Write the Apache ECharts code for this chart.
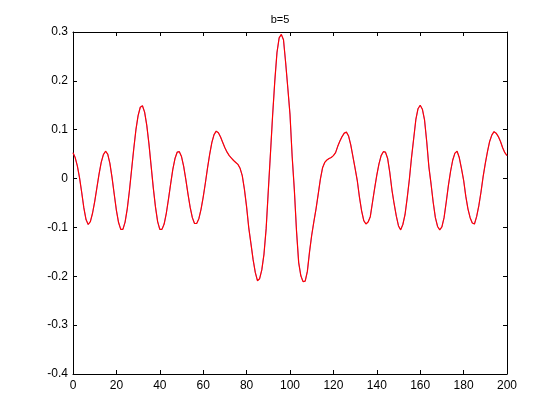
<!DOCTYPE html>
<html>
<head>
<meta charset="utf-8">
<script src="https://cdn.jsdelivr.net/npm/echarts@6/dist/echarts.min.js"></script>
<style>
html,body{margin:0;padding:0;background:#fff;}
#chart{width:560px;height:420px;}
</style>
</head>
<body>
<div id="chart"></div>
<script>
const titleText = "b=5";
const xTicks = [0, 20, 40, 60, 80, 100, 120, 140, 160, 180, 200];
const yTicks = [-0.4, -0.3, -0.2, -0.1, 0, 0.1, 0.2, 0.3];
// sample values at x = 0,1,2,...,200
const redValues = [
  0.053, 0.043, 0.026, 0.002, -0.028, -0.060, -0.084, -0.094, -0.088, -0.071,
  -0.047, -0.019, 0.009, 0.033, 0.049, 0.056, 0.050, 0.031, 0.002, -0.032,
  -0.065, -0.090, -0.104, -0.104, -0.089, -0.062, -0.025, 0.018, 0.061, 0.100,
  0.129, 0.146, 0.149, 0.136, 0.109, 0.071, 0.026, -0.019, -0.058, -0.088,
  -0.104, -0.104, -0.093, -0.071, -0.042, -0.011, 0.019, 0.041, 0.054, 0.055,
  0.045, 0.025, -0.002, -0.032, -0.059, -0.080, -0.092, -0.092, -0.082, -0.063,
  -0.038, -0.009, 0.022, 0.050, 0.074, 0.090, 0.097, 0.094, 0.085, 0.074,
  0.063, 0.054, 0.047, 0.042, 0.037, 0.033, 0.029, 0.021, 0.006, -0.022,
  -0.058, -0.101, -0.133, -0.166, -0.192, -0.209, -0.205, -0.187, -0.155, -0.103,
  -0.025, 0.052, 0.130, 0.200, 0.258, 0.288, 0.295, 0.284, 0.237, 0.185,
  0.131, 0.045, -0.023, -0.107, -0.172, -0.199, -0.211, -0.210, -0.190, -0.150,
  -0.116, -0.088, -0.062, -0.032, -0.001, 0.022, 0.033, 0.038, 0.041, 0.043,
  0.047, 0.053, 0.066, 0.077, 0.086, 0.093, 0.095, 0.087, 0.069, 0.045,
  0.021, -0.004, -0.038, -0.066, -0.086, -0.093, -0.089, -0.078, -0.049, -0.020,
  0.007, 0.030, 0.047, 0.055, 0.054, 0.041, 0.012, -0.024, -0.052, -0.077,
  -0.097, -0.105, -0.094, -0.074, -0.040, -0.002, 0.043, 0.082, 0.121, 0.143,
  0.150, 0.142, 0.120, 0.076, 0.024, -0.011, -0.049, -0.080, -0.098, -0.105,
  -0.099, -0.080, -0.048, -0.014, 0.015, 0.038, 0.052, 0.056, 0.043, 0.021,
  -0.003, -0.036, -0.062, -0.080, -0.091, -0.093, -0.078, -0.056, -0.028, 0.004,
  0.031, 0.055, 0.076, 0.089, 0.096, 0.093, 0.086, 0.076, 0.063, 0.053,
  0.047
];
const blueValues = redValues;

const toPairs = arr => arr.map((v, i) => [i, v]);
const fmtY = v => String(+(+v).toFixed(1));
const FONT = "Liberation Sans, Arial, sans-serif";

const chart = echarts.init(document.getElementById('chart'), null, {renderer: 'canvas'});
const axisCommon = {
  axisLine: {show: true, onZero: false, lineStyle: {color: '#000', width: 1}},
  axisTick: {show: true, inside: true, length: 4, lineStyle: {color: '#000', width: 1}},
  splitLine: {show: false}
};
chart.setOption({
  animation: false,
  backgroundColor: '#fff',
  title: {
    text: titleText, left: 'center', top: 9,
    textStyle: {fontFamily: FONT, fontSize: 11, fontWeight: 'normal', color: '#000'}
  },
  grid: {left: 73, right: 53, top: 32, bottom: 46, containLabel: false},
  xAxis: [
    Object.assign({
      type: 'value', position: 'bottom', min: xTicks[0], max: xTicks[xTicks.length - 1],
      interval: xTicks[1] - xTicks[0],
      axisLabel: {color: '#000', fontFamily: FONT, fontSize: 12, margin: 6}
    }, axisCommon),
    Object.assign({
      type: 'value', position: 'top', min: xTicks[0], max: xTicks[xTicks.length - 1],
      interval: xTicks[1] - xTicks[0], axisLabel: {show: false}
    }, axisCommon)
  ],
  yAxis: [
    Object.assign({
      type: 'value', position: 'left', min: yTicks[0], max: yTicks[yTicks.length - 1],
      interval: 0.1,
      axisLabel: {color: '#000', fontFamily: FONT, fontSize: 12, margin: 5, formatter: fmtY}
    }, axisCommon),
    Object.assign({
      type: 'value', position: 'right', min: yTicks[0], max: yTicks[yTicks.length - 1],
      interval: 0.1, axisLabel: {show: false}
    }, axisCommon)
  ],
  series: [
    {
      type: 'line', data: toPairs(blueValues), xAxisIndex: 0, yAxisIndex: 0,
      showSymbol: false, lineStyle: {color: '#0000ff', width: 0.5}, silent: true
    },
    {
      type: 'line', data: toPairs(redValues), xAxisIndex: 0, yAxisIndex: 0,
      showSymbol: false, lineStyle: {color: '#ff0000', width: 1.2}, silent: true
    }
  ]
});
</script>
</body>
</html>
